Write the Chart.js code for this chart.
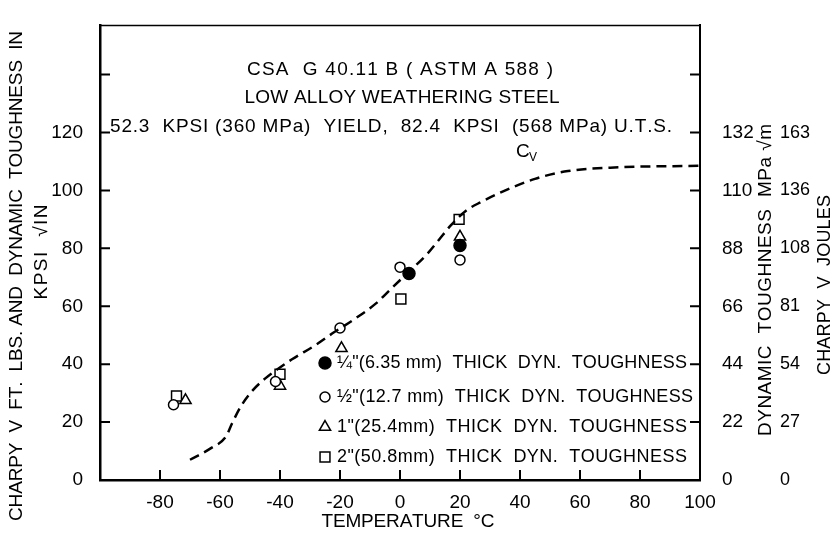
<!DOCTYPE html>
<html>
<head>
<meta charset="utf-8">
<script src="https://cdn.jsdelivr.net/npm/chart.js@4.4.0/dist/chart.umd.min.js"></script>
<style>
  html, body { margin: 0; padding: 0; background: #fff; }
  #wrap { width: 834px; height: 535px; }
</style>
</head>
<body>
<div id="wrap"><canvas id="chart" width="834" height="535"></canvas></div>
<script>
// axis ticks
const tempTicks = [-100, -80, -60, -40, -20, 0, 20, 40, 60, 80, 100];
const kpsiTicks = [0, 20, 40, 60, 80, 100, 120, 140];
const kpsiLabels = ['0', '20', '40', '60', '80', '100', '120', ''];
const mpaLabels = ['0', '22', '44', '66', '88', '110', '132', ''];
const jouleLabels = ['0', '27', '54', '81', '108', '136', '163', ''];

// Charpy V curve (ft. lbs.)
const cvTemp = [-70, -63, -58, -56, -53, -49.5, -45, -40.5, -36, -28, -22, -16, -8, -3, 2, 9, 13, 17, 22, 27, 34, 45, 56, 73, 100];
const cvValue = [7, 11, 15, 19.5, 25.5, 30.5, 35, 38.5, 41.7, 46.7, 51, 55, 61, 66, 71, 78, 83, 88, 93, 96, 99.5, 104, 106.7, 108, 108.5];

// dynamic toughness points (ksi sqrt in)
const quarterTemp = [3, 20];
const quarterValue = [71.3, 81];
const halfTemp = [-75.5, -41.5, -20, 0, 20];
const halfValue = [26, 34, 52.5, 73.5, 76];
const oneTemp = [-71.5, -40, -19.5, 20];
const oneValue = [27.5, 32.5, 45.5, 84];
const twoTemp = [-74.5, -40, 0.3, 19.7];
const twoValue = [29, 36.5, 62.5, 90];

const legendNames = [
  '\u00BC"(6.35 mm)  THICK  DYN.  TOUGHNESS',
  '\u00BD"(12.7 mm)  THICK  DYN.  TOUGHNESS',
  '1"(25.4mm)  THICK  DYN.  TOUGHNESS',
  '2"(50.8mm)  THICK  DYN.  TOUGHNESS'
];

const FONT = '"Liberation Sans", Arial, sans-serif';

function pts(xs, ys) {
  return xs.map((x, i) => ({ x: x, y: ys[i] }));
}

function spaced(ctx, text, x, y, width, align) {
  const chars = [...text];
  const ws = chars.map(c => ctx.measureText(c).width);
  const natural = ws.reduce((a, b) => a + b, 0);
  const gap = chars.length > 1 ? (width - natural) / (chars.length - 1) : 0;
  let cx = align === 'center' ? x - width / 2 : x;
  ctx.textAlign = 'left';
  chars.forEach((c, i) => {
    ctx.fillText(c, cx, y);
    cx += ws[i] + gap;
  });
}

function rotated(ctx, text, cx, cy, length, size) {
  ctx.save();
  ctx.translate(cx, cy);
  ctx.rotate(-Math.PI / 2);
  ctx.font = size + 'px ' + FONT;
  ctx.textBaseline = 'middle';
  spaced(ctx, text, 0, 0, length, 'center');
  ctx.restore();
}

const decor = {
  id: 'decor',
  afterDatasetsDraw(chart) {
    const ctx = chart.ctx;
    const area = chart.chartArea;
    const xs = chart.scales.x, ys = chart.scales.y;
    ctx.save();
    ctx.strokeStyle = '#000';
    ctx.fillStyle = '#000';

    // top frame line
    ctx.lineWidth = 1.5;
    ctx.beginPath();
    ctx.moveTo(area.left, area.top);
    ctx.lineTo(area.right, area.top);
    ctx.stroke();

    // inward tick marks
    ctx.lineWidth = 2;
    ctx.beginPath();
    tempTicks.slice(1, -1).forEach(v => {
      const px = xs.getPixelForValue(v);
      ctx.moveTo(px, area.bottom);
      ctx.lineTo(px, area.bottom - 10);
    });
    kpsiTicks.slice(1).forEach(v => {
      const py = ys.getPixelForValue(v);
      ctx.moveTo(area.left, py);
      ctx.lineTo(area.left + 10, py);
      ctx.moveTo(area.right, py);
      ctx.lineTo(area.right - 10, py);
    });
    ctx.stroke();

    // heading inside the plot
    ctx.textBaseline = 'middle';
    ctx.font = '19px ' + FONT;
    spaced(ctx, 'CSA  G 40.11 B ( ASTM A 588 )', 400, 70, 306, 'center');
    spaced(ctx, 'LOW ALLOY WEATHERING STEEL', 402, 98, 315, 'center');
    spaced(ctx, '52.3  KPSI (360 MPa)  YIELD,  82.4  KPSI  (568 MPa) U.T.S.', 391, 127, 562, 'center');

    // curve label
    ctx.font = '19px ' + FONT;
    ctx.textAlign = 'left';
    ctx.fillText('C', 516, 152);
    ctx.font = '12px ' + FONT;
    ctx.fillText('V', 529, 158);

    // legend
    const styles = [
      { pointStyle: 'circle', radius: 6, fill: '#000' },
      { pointStyle: 'circle', radius: 5, fill: '#fff' },
      { pointStyle: 'triangle', radius: 6.5, fill: '#fff' },
      { pointStyle: 'rect', radius: 7, fill: '#fff' }
    ];
    const rows = [363, 397, 427, 457];
    styles.forEach((s, i) => {
      ctx.fillStyle = s.fill;
      ctx.strokeStyle = '#000';
      ctx.lineWidth = 1.5;
      Chart.helpers.drawPoint(ctx, { pointStyle: s.pointStyle, radius: s.radius, borderWidth: 1.5, rotation: 0 }, 325, rows[i]);
      ctx.fillStyle = '#000';
      ctx.font = '18px ' + FONT;
      ctx.textBaseline = 'middle';
      spaced(ctx, legendNames[i], 337, rows[i], i === 1 ? 356 : 350, 'left');
    });

    // axis titles
    ctx.fillStyle = '#000';
    rotated(ctx, 'CHARPY  V  FT.  LBS. AND  DYNAMIC  TOUGHNESS  IN', 17, 276, 490, 19);
    rotated(ctx, 'KPSI  \u221AIN', 42, 252, 95, 19);
    rotated(ctx, 'DYNAMIC  TOUGHNESS  MPa \u221Am', 766, 280, 312, 19);
    rotated(ctx, 'CHARPY  V  JOULES', 825, 285, 180, 18);
    ctx.textBaseline = 'middle';
    ctx.font = '19px ' + FONT;
    spaced(ctx, 'TEMPERATURE  \u00B0C', 408, 522, 173, 'center');

    ctx.restore();
  }
};

function fixedTicks(values) {
  return scale => { scale.ticks = values.map(v => ({ value: v })); };
}

const tickFont = { family: FONT, size: 19 };

new Chart(document.getElementById('chart'), {
  type: 'scatter',
  data: {
    datasets: [
      {
        label: 'Cv',
        data: pts(cvTemp, cvValue),
        showLine: true,
        borderColor: '#000',
        borderWidth: 2.5,
        borderDash: [10, 6],
        pointRadius: 0,
        cubicInterpolationMode: 'monotone',
        fill: false
      },
      {
        label: '1/4"',
        data: pts(quarterTemp, quarterValue),
        pointStyle: 'circle',
        pointRadius: 6,
        backgroundColor: '#000',
        borderColor: '#000',
        borderWidth: 1.5
      },
      {
        label: '1/2"',
        data: pts(halfTemp, halfValue),
        pointStyle: 'circle',
        pointRadius: 5,
        backgroundColor: '#fff',
        borderColor: '#000',
        borderWidth: 1.5
      },
      {
        label: '1"',
        data: pts(oneTemp, oneValue),
        pointStyle: 'triangle',
        pointRadius: 6.5,
        backgroundColor: '#fff',
        borderColor: '#000',
        borderWidth: 1.5
      },
      {
        label: '2"',
        data: pts(twoTemp, twoValue),
        pointStyle: 'rect',
        pointRadius: 7,
        backgroundColor: '#fff',
        borderColor: '#000',
        borderWidth: 1.5
      }
    ]
  },
  options: {
    responsive: false,
    animation: false,
    layout: { padding: { top: 10, left: 0, right: 0, bottom: 0 } },
    plugins: { legend: { display: false }, tooltip: { enabled: false } },
    scales: {
      x: {
        type: 'linear',
        min: -100,
        max: 100,
        afterBuildTicks: fixedTicks(tempTicks),
        afterFit: s => { s.height = 55; },
        grid: { display: false },
        border: { display: true, color: '#000', width: 2.5 },
        ticks: {
          color: '#000',
          font: tickFont,
          padding: 3,
          maxRotation: 0,
          autoSkip: false,
          callback: v => (v === -100 ? '' : String(v))
        }
      },
      y: {
        position: 'left',
        min: 0,
        max: 157,
        afterBuildTicks: fixedTicks(kpsiTicks),
        afterFit: s => { s.width = 100; },
        grid: { display: false },
        border: { display: true, color: '#000', width: 2.5 },
        ticks: { color: '#000', font: tickFont, padding: 9, autoSkip: false, callback: (v, i) => kpsiLabels[i] }
      },
      y2: {
        position: 'right',
        weight: 0,
        min: 0,
        max: 157,
        afterBuildTicks: fixedTicks(kpsiTicks),
        afterFit: s => { s.width = 70; },
        grid: { display: false },
        border: { display: true, color: '#000', width: 2 },
        ticks: { color: '#000', font: tickFont, padding: 14, autoSkip: false, callback: (v, i) => mpaLabels[i] }
      },
      y3: {
        position: 'right',
        weight: 1,
        min: 0,
        max: 157,
        afterBuildTicks: fixedTicks(kpsiTicks),
        afterFit: s => { s.width = 64; },
        grid: { display: false },
        border: { display: false },
        ticks: { color: '#000', font: { family: FONT, size: 18 }, padding: 2, autoSkip: false, callback: (v, i) => jouleLabels[i] }
      }
    }
  },
  plugins: [decor]
});
</script>
</body>
</html>
